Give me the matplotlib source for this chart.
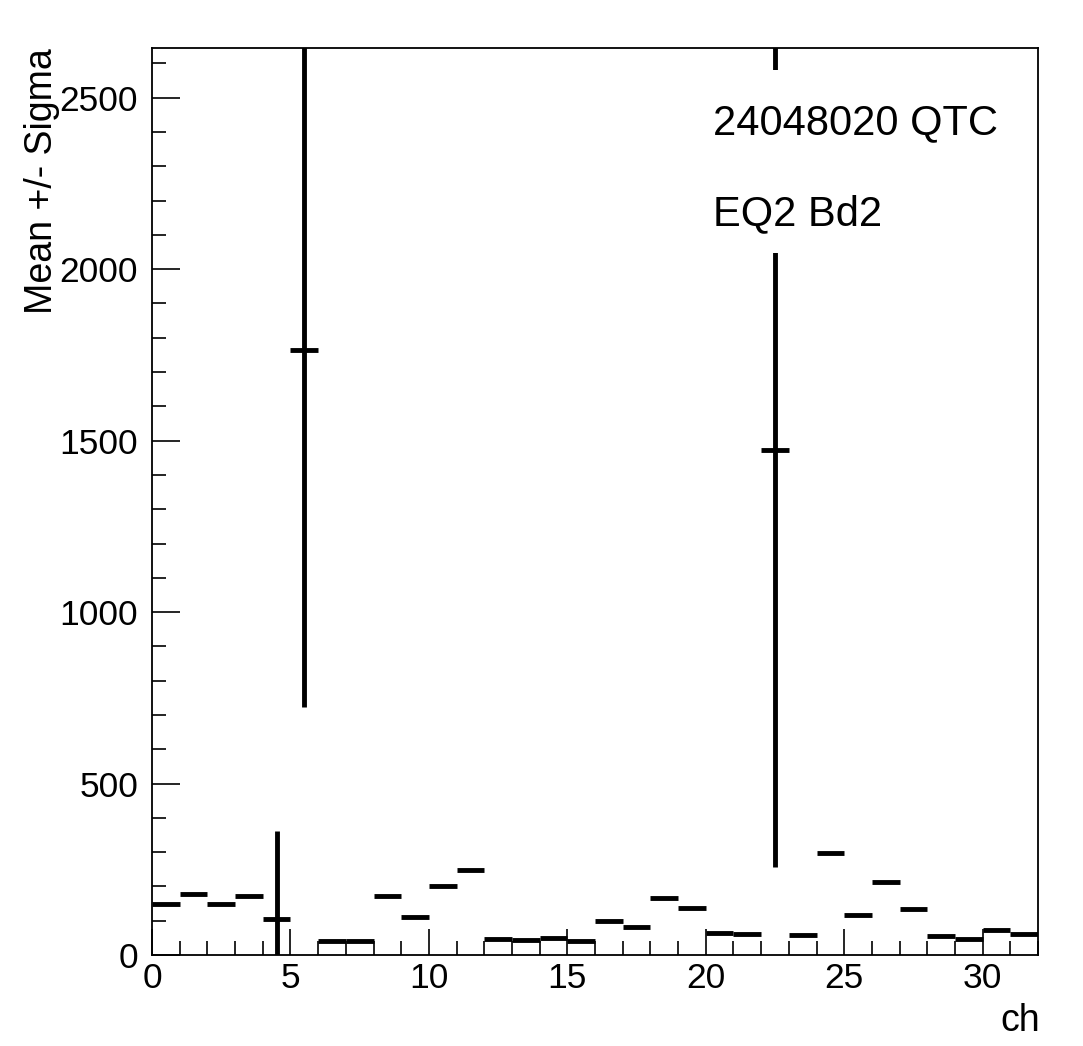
import matplotlib
matplotlib.use("Agg")
import matplotlib.pyplot as plt
from matplotlib.ticker import MultipleLocator
from matplotlib.patches import Rectangle
import numpy as np

# Data: channel bins, mean, sigma
channels = list(range(32))
means = [148, 179, 150, 172, 105, 1763, 42, 41, 173, 110, 202, 247,
         46, 44, 50, 42, 99, 83, 166, 138, 63, 61, 1473, 58,
         297, 117, 212, 134, 55, 47, 74, 61]
sigmas = [0, 0, 0, 0, 258, 1040, 0, 0, 0, 0, 0, 0,
          0, 0, 0, 0, 0, 0, 0, 0, 0, 0, 1217, 0,
          0, 0, 0, 0, 0, 0, 0, 0]
title_lines = ["24048020 QTC", "EQ2 Bd2"]

plt.rcParams['font.family'] = ['Liberation Sans', 'DejaVu Sans']

fig = plt.figure(figsize=(10.83, 10.46), dpi=100)
ax = fig.add_axes([152/1083, 91/1046, 886/1083, 907/1046])

x = np.array(channels) + 0.5
ax.errorbar(x, means, xerr=0.5, yerr=sigmas, fmt='none', ecolor='black',
            elinewidth=3.5, capsize=0, zorder=2)

ax.set_xlim(0, 32)
ax.set_ylim(0, 2645)

ax.xaxis.set_major_locator(MultipleLocator(5))
ax.xaxis.set_minor_locator(MultipleLocator(1))
ax.yaxis.set_major_locator(MultipleLocator(500))
ax.yaxis.set_minor_locator(MultipleLocator(100))
ax.tick_params(axis='both', which='major', direction='in', length=19, width=1.2,
               labelsize=25.5, top=False, right=False)
ax.tick_params(axis='both', which='minor', direction='in', length=10, width=1.2,
               top=False, right=False)
ax.tick_params(axis='y', which='major', length=20, pad=10)
ax.tick_params(axis='x', which='major', pad=5)
for s in ax.spines.values():
    s.set_linewidth(1.3)

# white pave behind the text
ax.add_patch(Rectangle((0.624, 0.774), 0.34, 0.202, transform=ax.transAxes,
                       facecolor='white', edgecolor='none', zorder=3))
ax.text(0.633, 0.905, title_lines[0], transform=ax.transAxes, fontsize=30,
        ha='left', va='baseline', zorder=4)
ax.text(0.633, 0.805, title_lines[1], transform=ax.transAxes, fontsize=30,
        ha='left', va='baseline', zorder=4)

fig.text(42/1083, 1 - 48/1046, "Mean +/- Sigma", rotation=90, ha='center',
         va='top', fontsize=27)
fig.text(1040/1083, 1 - 1003/1046, "ch", ha='right', va='top', fontsize=27)

fig.savefig("out.png", dpi=100)
